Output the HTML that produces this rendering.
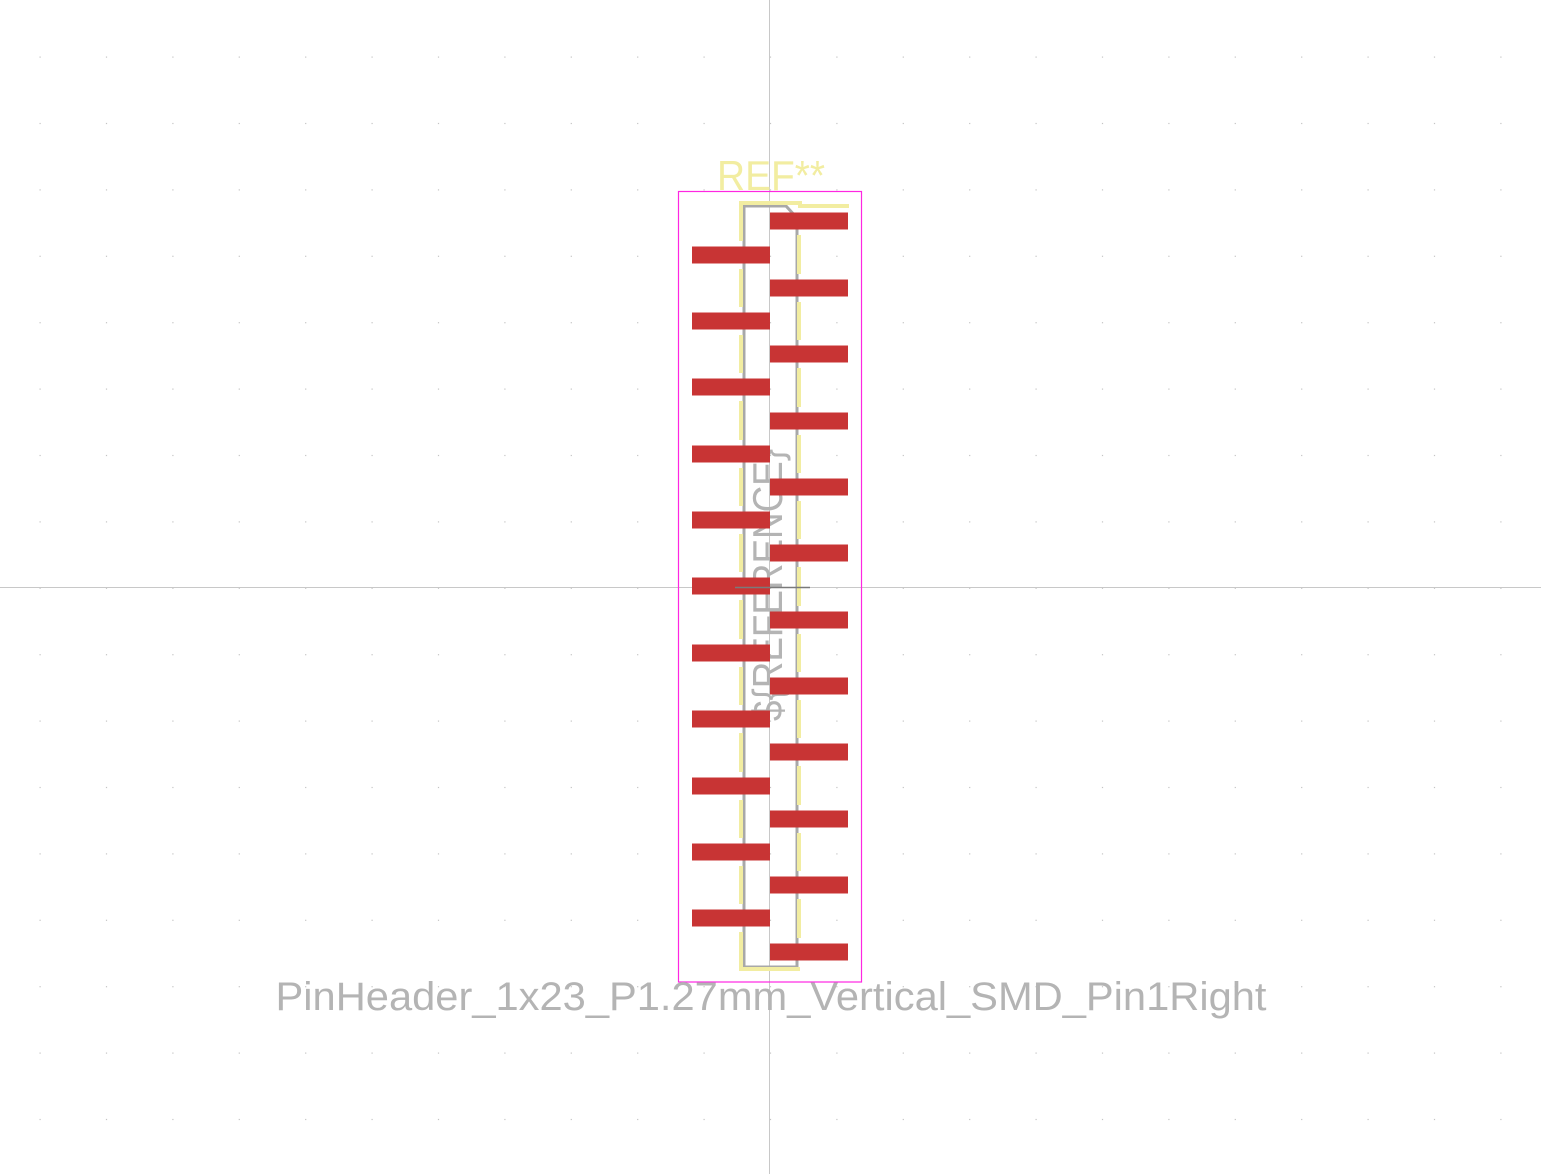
<!DOCTYPE html>
<html><head><meta charset="utf-8"><style>html,body{margin:0;padding:0;background:#fff}svg{display:block}</style></head>
<body>
<svg id="c" width="1541" height="1174" viewBox="0 0 1541 1174" xmlns="http://www.w3.org/2000/svg">
<rect width="1541" height="1174" fill="#ffffff"/>
<g id="grid"></g>
<line x1="769.5" y1="0" x2="769.5" y2="1174" stroke="#c8c8c8" stroke-width="1"/>
<line x1="0" y1="587.5" x2="1541" y2="587.5" stroke="#c8c8c8" stroke-width="1"/>
<text x="0" y="0" transform="translate(782,585) rotate(-90)" text-anchor="middle" font-family="'Liberation Sans',sans-serif" font-size="42" fill="#b4b4b4" textLength="272" lengthAdjust="spacingAndGlyphs">${REFERENCE}</text>
<path d="M744,206 H786 L797,218 V967 H744 Z" fill="none" stroke="#a8a8a8" stroke-width="3"/>
<g id="silk" fill="none" stroke="#f2eda1" stroke-width="4"></g>
<g id="pads"></g>
<line x1="735" y1="587.5" x2="810" y2="587.5" stroke="#7a7a7a" stroke-width="1.5"/>
<rect x="678.5" y="191.5" width="183" height="790.5" fill="none" stroke="#ff26e2" stroke-width="1.2"/>
<text x="771" y="190" text-anchor="middle" font-family="'Liberation Sans',sans-serif" font-size="42" fill="#f2eda1" textLength="108" lengthAdjust="spacingAndGlyphs">REF**</text>
<text x="771" y="1010" text-anchor="middle" font-family="'Liberation Sans',sans-serif" font-size="40" fill="#b4b4b4" textLength="991" lengthAdjust="spacingAndGlyphs">PinHeader_1x23_P1.27mm_Vertical_SMD_Pin1Right</text>
</svg>
<script>
const rightPadY = [221, 288, 354, 421, 487, 553, 620, 686, 752, 819, 885, 952];
const leftPadY = [255, 321, 387, 454, 520, 586, 653, 719, 786, 852, 918];
const NS = 'http://www.w3.org/2000/svg';
const g = document.getElementById('grid');
for (let x = 39.5; x < 1541; x += 66.4) {
  for (let y = 56.5; y < 1174; y += 66.4) {
    const d = document.createElementNS(NS, 'rect');
    d.setAttribute('x', x.toFixed(1)); d.setAttribute('y', y.toFixed(1));
    d.setAttribute('width', 1.2); d.setAttribute('height', 1.2); d.setAttribute('fill', '#c4c4c4');
    
    
    g.appendChild(d);
  }
}
const pads = document.getElementById('pads');
function pad(x, y, name) {
  const r = document.createElementNS(NS, 'rect');
  r.setAttribute('x', x); r.setAttribute('y', y - 8.5);
  r.setAttribute('width', 78); r.setAttribute('height', 17); r.setAttribute('fill', '#c83434');
  
  
  pads.appendChild(r);
}
rightPadY.forEach((y, i) => pad(770, y, 'pad-' + (2 * i + 1)));
leftPadY.forEach((y, i) => pad(692, y, 'pad-' + (2 * i + 2)));
const silk = document.getElementById('silk');
function seg(d, name) {
  const p = document.createElementNS(NS, 'path');
  p.setAttribute('d', d);
  
  
  silk.appendChild(p);
}
seg('M741,' + (leftPadY[0] - 14) + ' V203 H800 V206 H849', 'silk-top');
seg('M741,' + (leftPadY[leftPadY.length - 1] + 14) + ' V969 H800', 'silk-bottom');
for (let i = 0; i < leftPadY.length - 1; i++) seg('M741,' + (leftPadY[i] + 14) + ' V' + (leftPadY[i + 1] - 14), 'silk-left-segment');
for (let i = 0; i < rightPadY.length - 1; i++) seg('M799,' + (rightPadY[i] + 14) + ' V' + (rightPadY[i + 1] - 14), 'silk-right-segment');
</script>
</body></html>
